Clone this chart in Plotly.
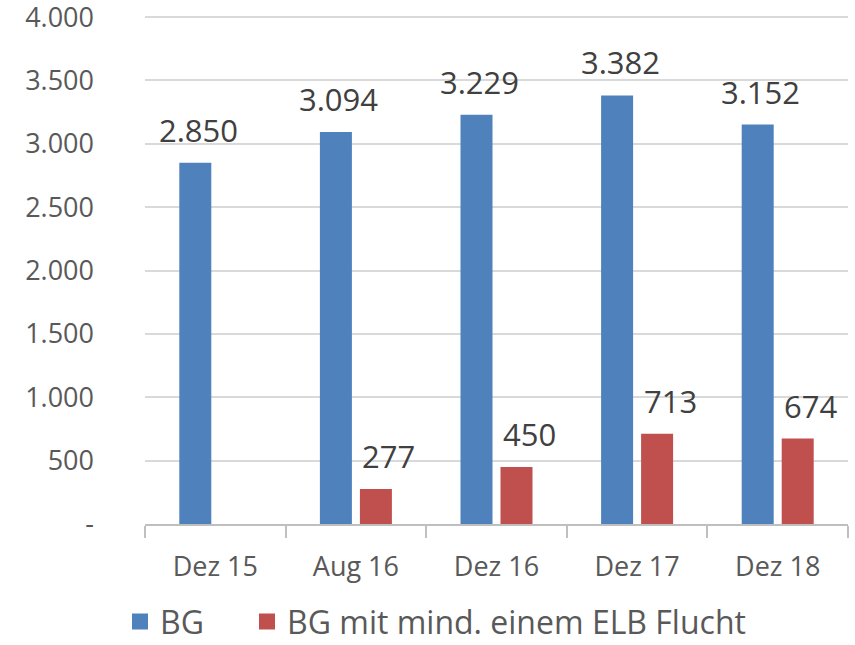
import plotly.graph_objects as go

categories = ["Dez 15", "Aug 16", "Dez 16", "Dez 17", "Dez 18"]
bg_values = [2850, 3094, 3229, 3382, 3152]
elb_values = [None, 277, 450, 713, 674]
series_names = ["BG", "BG mit mind. einem ELB Flucht"]
y_tickvals = [0, 500, 1000, 1500, 2000, 2500, 3000, 3500, 4000]
y_ticktext = ["-", "500", "1.000", "1.500", "2.000", "2.500", "3.000", "3.500", "4.000"]

BLUE = "#4F81BD"
RED = "#C0504D"
FONT = "Open Sans"


def de_fmt(v):
    return f"{v:,}".replace(",", ".")


fig = go.Figure()
fig.add_trace(go.Bar(x=categories, y=bg_values, name=series_names[0],
                     showlegend=False,
                     marker=dict(color=BLUE, line=dict(width=0))))
fig.add_trace(go.Bar(x=categories, y=elb_values, name=series_names[1],
                     showlegend=False,
                     marker=dict(color=RED, line=dict(width=0))))
# legend entries with larger square swatches, one legend per entry
for name, col, lg in zip(series_names, [BLUE, RED], ["legend", "legend2"]):
    fig.add_trace(go.Scatter(x=[None], y=[None], mode="markers", name=name,
                             legend=lg,
                             marker=dict(symbol="square", size=20, color=col)))

annotations = []
for c, v in zip(categories, bg_values):
    annotations.append(dict(x=c, y=v, text=de_fmt(v), showarrow=False,
                            xref="x", yref="y", xanchor="center", yanchor="bottom",
                            xshift=-17, yshift=10,
                            font=dict(family=FONT, size=31, color="#404040")))
for c, v in zip(categories, elb_values):
    if v is None:
        continue
    annotations.append(dict(x=c, y=v, text=de_fmt(v), showarrow=False,
                            xref="x", yref="y", xanchor="center", yanchor="bottom",
                            xshift=33, yshift=10,
                            font=dict(family=FONT, size=31, color="#404040")))

legend_common = dict(orientation="h", yref="container", y=0.036, yanchor="middle",
                     xref="container", xanchor="left",
                     font=dict(family=FONT, size=32, color="#595959"),
                     itemwidth=30, bgcolor="rgba(0,0,0,0)")

fig.update_layout(
    width=855, height=645,
    margin=dict(l=145, r=7, t=12, b=121, autoexpand=False),
    paper_bgcolor="white", plot_bgcolor="white",
    barmode="group", bargap=0.431, bargroupgap=0.2,
    font=dict(family=FONT, color="#595959"),
    annotations=annotations,
    showlegend=True,
    legend=dict(x=120 / 855, **legend_common),
    legend2=dict(x=247 / 855, **legend_common),
    xaxis=dict(type="category", showgrid=False, showline=True,
               linecolor="#BFBFBF", linewidth=1.5,
               ticks="outside", tickson="boundaries", ticklen=12,
               tickcolor="#BFBFBF", tickwidth=1.5, ticklabelstandoff=18,
               tickfont=dict(family=FONT, size=27, color="#595959")),
    yaxis=dict(range=[0, 4040], tickvals=y_tickvals, ticktext=y_ticktext,
               showgrid=True, gridcolor="#D9D9D9", gridwidth=1.5,
               zeroline=False, showline=False, ticks="", ticklabelstandoff=50,
               ticklabeloverflow="allow",
               tickfont=dict(family=FONT, size=27, color="#595959")),
)

fig.write_html("out.html")
